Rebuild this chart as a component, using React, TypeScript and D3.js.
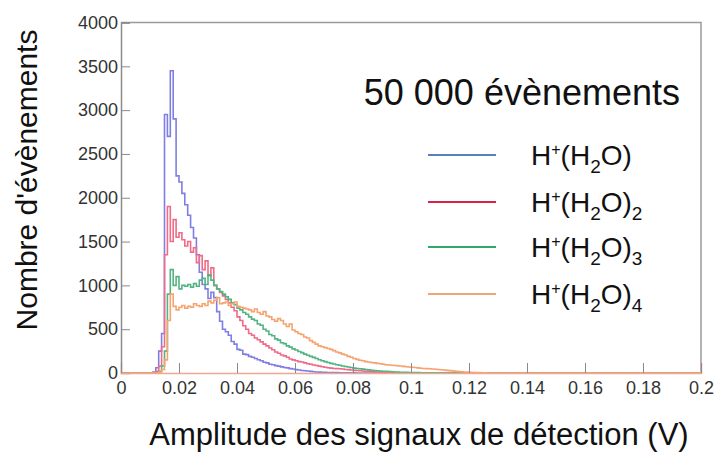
import { useEffect, useRef } from "react";
import * as d3 from "d3";

// histogram bins: 1 mV wide, first bin starts at 10 mV
const binStart = 0.01;
const binWidth = 0.001;

// H+(H2O)
const h2o1 = [
  0, 10, 60, 250, 450, 2950, 2700, 3450, 2900, 2250,
  2180, 2050, 1920, 1800, 1660, 1540, 1350, 1150, 1010, 960,
  850, 920, 860, 700, 590, 500, 470, 430, 360, 330,
  270, 260, 215, 210, 190, 180, 165, 152, 140, 122,
  115, 100, 94, 84, 78, 70, 62, 58, 50, 46,
  38, 34, 29, 26, 22, 18, 15, 12, 10, 8,
  7, 6, 5, 4, 4, 3, 3, 2, 2, 1, 1,
];
// H+(H2O)2
const h2o2 = [
  0, 0, 20, 80, 300, 1350, 1900, 1500, 1750, 1550,
  1600, 1520, 1450, 1500, 1380, 1430, 1260, 1340, 1180, 1280,
  1110, 1200, 1000, 960, 920, 880, 840, 800, 750, 710,
  640, 600, 540, 500, 450, 430, 400, 380, 355, 330,
  310, 285, 265, 240, 225, 205, 195, 180, 160, 150,
  140, 130, 125, 115, 105, 100, 92, 85, 78, 72,
  65, 60, 56, 52, 50, 48, 45, 40, 38, 35,
  30, 28, 25, 22, 20, 18, 15, 13, 12, 10,
  8, 7, 6, 5, 4, 3, 3, 2, 2, 1, 1,
];
// H+(H2O)3
const h2o3 = [
  0, 0, 0, 20, 80, 250, 900, 1180, 1000, 1100,
  960, 1000, 990, 1010, 980, 1020, 990, 1060, 1080, 1010,
  1120, 1060, 1000, 960, 930, 900, 870, 840, 800, 780,
  740, 720, 690, 670, 640, 615, 600, 560, 545, 500,
  480, 440, 425, 390, 375, 345, 335, 310, 295, 275,
  262, 245, 232, 215, 203, 190, 178, 165, 152, 140,
  130, 120, 110, 102, 95, 88, 80, 75, 68, 62,
  56, 52, 48, 44, 40, 36, 32, 28, 25, 22,
  20, 18, 16, 14, 12, 10, 9, 8, 7, 6,
  5, 5, 4, 3, 3, 2, 2, 2, 1, 1, 1,
];
// H+(H2O)4
const h2o4 = [
  0, 0, 0, 10, 40, 150, 600, 900, 760, 720,
  750, 770, 740, 760, 750, 790, 770, 760, 790, 770,
  820, 800, 830, 860, 790, 800, 810, 770, 790, 810,
  760, 750, 740, 730, 720, 700, 730, 690, 670, 700,
  650, 640, 610, 590, 620, 600, 560, 530, 560, 490,
  470, 450, 440, 410, 400, 370, 350, 330, 310, 300,
  290, 280, 270, 255, 240, 230, 215, 205, 190, 180,
  165, 155, 145, 140, 130, 125, 120, 115, 110, 105,
  100, 95, 92, 88, 85, 82, 80, 76, 72, 68,
  65, 62, 58, 55, 52, 50, 48, 45, 42, 40,
  37, 34, 30, 27, 24, 20, 17, 14, 12, 10,
  8, 6, 5, 4, 3, 2,
];

const seriesValues = [h2o1, h2o2, h2o3, h2o4];
const seriesSub = ["", "2", "3", "4"];
const histColors = ["#7f7fe3", "#f06b88", "#52b482", "#f5a46f"];
const legendColors = ["#5b80b8", "#dc1f4c", "#2fa86a", "#e9a77a"];

const yTicks = [0, 500, 1000, 1500, 2000, 2500, 3000, 3500, 4000];
const xTicks = [0, 0.02, 0.04, 0.06, 0.08, 0.1, 0.12, 0.14, 0.16, 0.18, 0.2];

const FONT = "'Liberation Sans', Arial, sans-serif";

const App = () => {
  const svgRef = useRef(null);

  useEffect(() => {
    const W = 714;
    const H = 457;
    const left = 121;
    const right = 701;
    const top = 22.5;
    const bottom = 373;

    const svg = d3.select(svgRef.current);
    svg.selectAll("*").remove();
    svg.attr("width", W).attr("height", H);

    const x = d3.scaleLinear().domain([0, 0.2]).range([left, right]);
    const y = d3.scaleLinear().domain([0, 4000]).range([bottom, top]);

    // frame (top and right)
    svg
      .append("path")
      .attr("d", `M${left},${top}H${right}V${bottom}`)
      .attr("fill", "none")
      .attr("stroke", "#9a9a9a")
      .attr("stroke-width", 1.5);

    // histograms
    const line = d3
      .line()
      .x((d) => x(d[0]))
      .y((d) => y(d[1]))
      .curve(d3.curveStepAfter);

    seriesValues.forEach((vals, i) => {
      const pts = [[0, 0]];
      vals.forEach((v, k) => pts.push([binStart + k * binWidth, v]));
      pts.push([binStart + vals.length * binWidth, 0]);
      pts.push([0.2, 0]);
      svg
        .append("path")
        .attr("d", line(pts))
        .attr("fill", "none")
        .attr("stroke", histColors[i])
        .attr("stroke-width", 1.6);
    });

    // Y axis, ticks pointing inside
    const yMinor = d3.range(0, 4001, 100);
    const yAxis = svg.append("g").attr("transform", `translate(${left},0)`);
    yAxis.call(d3.axisLeft(y).tickValues(yMinor).tickSize(-5).tickFormat(() => ""));
    yAxis.call(
      d3.axisLeft(y).tickValues(yTicks).tickSize(-9).tickPadding(3).tickFormat(d3.format("d"))
    );
    yAxis.selectAll("path.domain").attr("stroke", "#8a8a8a").attr("stroke-width", 1.5);
    yAxis.selectAll("line").attr("stroke", "#8a8a8a");
    yAxis.selectAll("text").attr("font-family", FONT).attr("font-size", 18).attr("fill", "#333");

    // X axis, ticks pointing inside
    const xMinor = d3.range(0, 41).map((k) => k * 0.005);
    const xAxis = svg.append("g").attr("transform", `translate(0,${bottom})`);
    xAxis.call(d3.axisBottom(x).tickValues(xMinor).tickSize(-5).tickFormat(() => ""));
    xAxis.call(
      d3
        .axisBottom(x)
        .tickValues(xTicks)
        .tickSize(-10)
        .tickPadding(8)
        .tickFormat((d) => String(+d.toFixed(2)))
    );
    xAxis.selectAll("path.domain").attr("stroke", "#f2a890").attr("stroke-width", 1.5);
    xAxis.selectAll("line").attr("stroke", "#8a8a8a");
    xAxis.selectAll("text").attr("font-family", FONT).attr("font-size", 18).attr("fill", "#333");

    // axis titles
    svg
      .append("text")
      .attr("x", 419)
      .attr("y", 445)
      .attr("text-anchor", "middle")
      .attr("font-family", FONT)
      .attr("font-size", 31)
      .attr("fill", "#111")
      .text("Amplitude des signaux de détection (V)");

    svg
      .append("text")
      .attr("transform", "translate(37,180) rotate(-90)")
      .attr("text-anchor", "middle")
      .attr("font-family", FONT)
      .attr("font-size", 30)
      .attr("fill", "#111")
      .text("Nombre d'évènements");

    // annotation
    svg
      .append("text")
      .attr("x", 680)
      .attr("y", 105)
      .attr("text-anchor", "end")
      .attr("font-family", FONT)
      .attr("font-size", 36)
      .attr("fill", "#111")
      .text("50 000 évènements");

    // legend
    const legendY = [155, 202, 247, 294];
    seriesSub.forEach((sub, i) => {
      const ly = legendY[i];
      svg
        .append("line")
        .attr("x1", 428)
        .attr("x2", 496)
        .attr("y1", ly)
        .attr("y2", ly)
        .attr("stroke", legendColors[i])
        .attr("stroke-width", 2);

      const t = svg
        .append("text")
        .attr("x", 531)
        .attr("y", ly + 10)
        .attr("font-family", FONT)
        .attr("font-size", 28)
        .attr("fill", "#111");
      t.append("tspan").text("H");
      t.append("tspan").attr("font-size", 16).attr("dy", -10).text("+");
      t.append("tspan").attr("dy", 10).text("(H");
      t.append("tspan").attr("font-size", 19).attr("dy", 8).text("2");
      t.append("tspan").attr("dy", -8).text("O)");
      if (sub) {
        t.append("tspan").attr("font-size", 19).attr("dy", 8).text(sub);
      }
    });
  }, []);

  return (
    <div style={{ position: "absolute", left: 0, top: 0 }}>
      <svg ref={svgRef} style={{ display: "block", background: "#fff" }}></svg>
    </div>
  );
};

export default App;
